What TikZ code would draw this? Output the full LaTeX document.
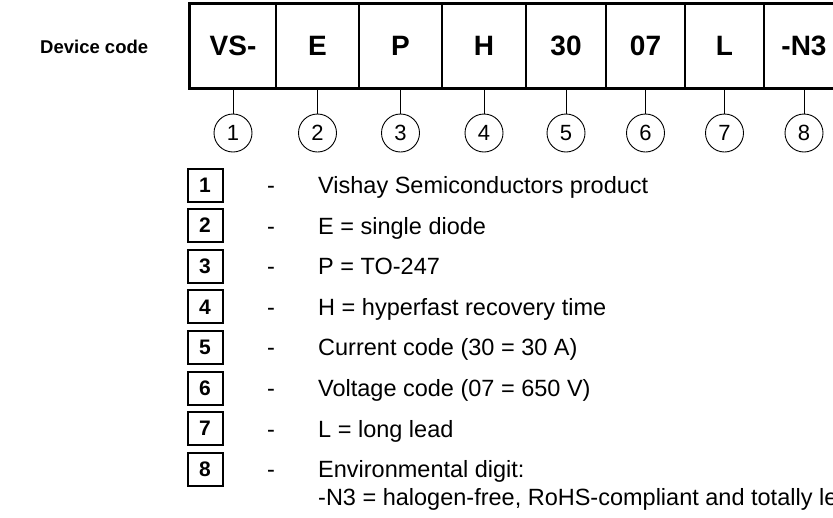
\documentclass[tikz,border=0pt]{standalone}
\usepackage{fontspec}
\setmainfont{Liberation Sans}
\usetikzlibrary{positioning}

\tikzset{
  cell/.style={draw, line width=1.3pt, inner sep=0pt, minimum height=84pt, font=\fontsize{28}{30}\selectfont\bfseries},
  posmark/.style={draw, circle, line width=0.9pt, minimum size=38pt, inner sep=0pt, font=\fontsize{22}{24}\selectfont},
  tagbox/.style={draw, line width=2pt, minimum width=35pt, minimum height=33pt, inner sep=0pt, font=\fontsize{21}{23}\selectfont\bfseries},
  legend/.style={anchor=base west, inner sep=0pt, font=\fontsize{23.5}{28}\selectfont},
}

\begin{document}
\begin{tikzpicture}[x=1pt,y=-1pt]
\useasboundingbox (0,0) rectangle (833,517);
\clip (0,0) rectangle (833,517);
\node[anchor=west, inner sep=0pt, font=\fontsize{18.5}{20}\selectfont\bfseries] (devcode) at (40,47) {Device code};
% code cells and position marks
\foreach \txt/\l/\r [count=\i] in {VS-/190/276, E/276/359, P/359/442, H/442/526, 30/526/606, 07/606/685, L/685/764, -N3/764/844}{
    \node[cell, minimum width=\r-\l] (c\i) at ({(\l+\r)/2}, 46) {\txt};
    \node[posmark] (p\i) at ({(\l+\r)/2}, 133) {\i};
    \draw[line width=0.9pt] (c\i.south) -- (p\i.north);
}
\draw[line width=2.4pt] (c1.north west) rectangle (c8.south east);
% legend
\foreach \txt [count=\i] in {Vishay Semiconductors product, E = single diode, P = TO-247, H = hyperfast recovery time, Current code (30 = 30 A), Voltage code (07 = 650 V), L = long lead, Environmental digit:}{
    \node[tagbox] (t\i) at (205, {185+40.6*(\i-1)}) {\i};
    \node[legend] (d\i) at (267, {193.4+40.6*(\i-1)}) {-};
    \node[legend] (l\i) at (318, {193.4+40.6*(\i-1)}) {\txt};
}
\node[legend] (l9) at ([yshift=-28pt]l8.base west) {-N3 = halogen-free, RoHS-compliant and totally lead (Pb)-free};
\end{tikzpicture}
\end{document}
